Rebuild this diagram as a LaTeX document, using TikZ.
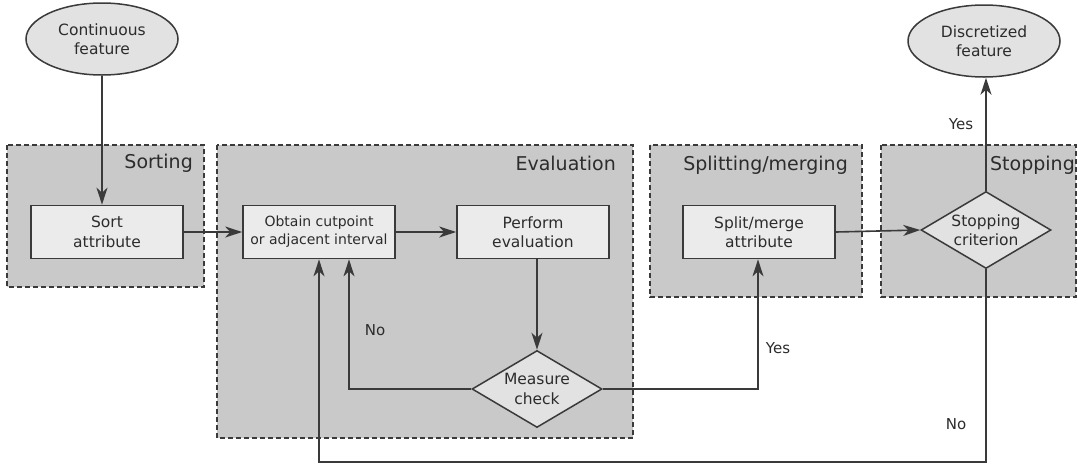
\documentclass[tikz,border=0pt]{standalone}
\usepackage{fontspec}
\setmainfont{DejaVu Sans}
\usetikzlibrary{shapes.geometric,arrows.meta}
\definecolor{groupfill}{HTML}{C9C9C9}
\definecolor{boxfill}{HTML}{EBEBEB}
\definecolor{termfill}{HTML}{E2E2E2}
\definecolor{ink}{HTML}{3A3A3A}
\definecolor{txt}{HTML}{2C2C2C}
\tikzset{
  group/.style={draw=ink, line width=1.5pt, dash pattern=on 5pt off 3pt, fill=groupfill},
  grouplabel/.style={anchor=east, inner sep=0pt, text=txt, font=\fontsize{19}{22}\selectfont},
  stepbox/.style={draw=ink, line width=1.7pt, fill=boxfill, minimum width=152pt, minimum height=53pt,
    inner sep=0pt, align=center, text=txt, font=\fontsize{15.5}{19.5}\selectfont},
  terminal/.style={ellipse, draw=ink, line width=1.5pt, fill=termfill, minimum width=152pt,
    minimum height=72pt, inner sep=0pt, align=center, text=txt, font=\fontsize{15.5}{19.5}\selectfont},
  decision/.style={diamond, aspect=1.7, draw=ink, line width=1.5pt, fill=termfill, minimum width=130pt,
    minimum height=77pt, inner sep=0pt, align=center, text=txt, font=\fontsize{15.5}{19.5}\selectfont},
  flow/.style={draw=ink, line width=1.6pt, -{Stealth[length=17pt, width=11pt, inset=5pt]}},
  edgelabel/.style={text=txt, inner sep=0pt, font=\fontsize{15}{18}\selectfont}
}
\begin{document}
\begin{tikzpicture}[x=1pt, y=-1pt]
  \useasboundingbox (0,0) rectangle (1078,464);

  % stage groups
  \path[group] (7,145) rectangle (204,287);
  \path[group] (217,145) rectangle (633,438);
  \path[group] (650,145) rectangle (862,297);
  \path[group] (881,145) rectangle (1076,297);
  \node[grouplabel] (lsort) at (193,163) {Sorting};
  \node[grouplabel] (leval) at (616,163) {Evaluation};
  \node[grouplabel] (lsplit) at (848,165) {Splitting/merging};
  \node[grouplabel] (lstop) at (1075,165) {Stopping};

  % terminals
  \node[terminal] (cont) at (102,39) {Continuous\\feature};
  \node[terminal] (disc) at (984,41) {Discretized\\feature};

  % process steps
  \node[stepbox] (sort) at (107,232) {Sort\\attribute};
  \node[stepbox, font=\fontsize{14}{18}\selectfont] (obtain) at (319,232) {Obtain cutpoint\\or adjacent interval};
  \node[stepbox] (perform) at (533,232) {Perform\\evaluation};
  \node[stepbox] (split) at (759,232) {Split/merge\\attribute};

  % decisions
  \node[decision] (measure) at (537,389) {Measure\\check};
  \node[decision] (stop) at (986,230) {Stopping\\criterion};

  % bend points
  \coordinate (nocorner) at (349,389);
  \coordinate (yescorner) at (758,389);
  \coordinate (loopright) at (986,462);
  \coordinate (loopleft) at (319,462);

  % connectors
  \draw[flow] (cont.south) -- (cont.south |- sort.north);
  \draw[flow] (sort.east) -- (obtain.west);
  \draw[flow] (obtain.east) -- (perform.west);
  \draw[flow] (perform.south -| measure.north) -- (measure.north);
  \draw[flow] (measure.west) -- (nocorner) -- (nocorner |- obtain.south);
  \draw[flow] (measure.east) -- (yescorner) -- (yescorner |- split.south);
  \draw[flow] (split.east) -- (stop.west);
  \draw[flow] (stop.north) -- (stop.north |- disc.south);
  \draw[flow] (stop.south) -- (loopright) -- (loopleft) -- (obtain.south);

  % branch labels
  \node[edgelabel] (no1) at (375,330) {No};
  \node[edgelabel] (yes1) at (778,348) {Yes};
  \node[edgelabel] (yes2) at (961,124) {Yes};
  \node[edgelabel] (no2) at (956,424) {No};
\end{tikzpicture}
\end{document}
